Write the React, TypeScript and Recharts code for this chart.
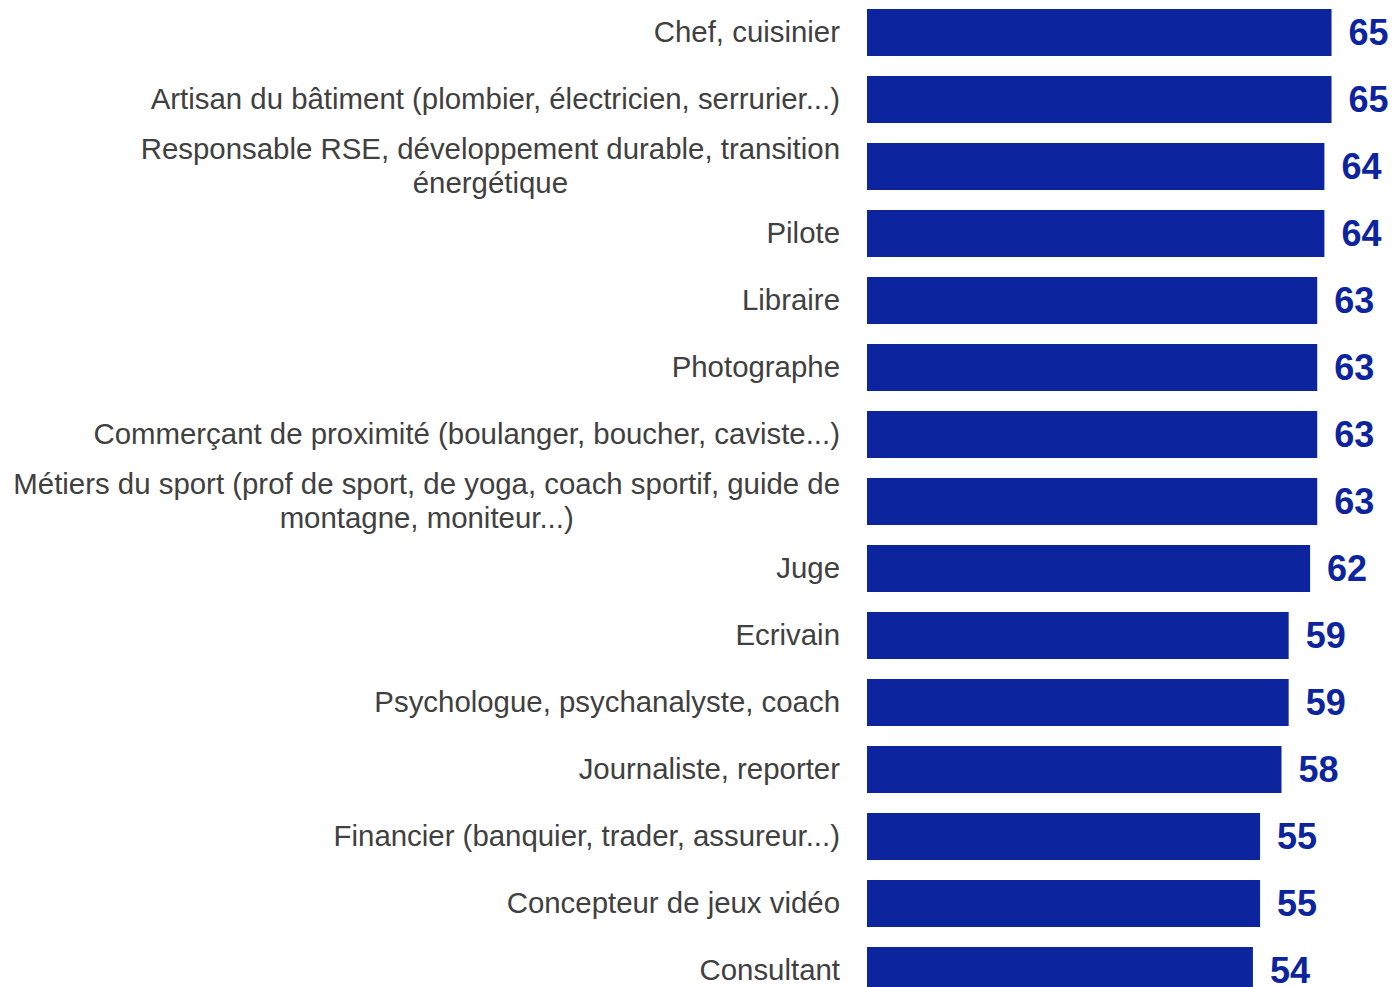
import { BarChart, Bar, XAxis, YAxis, LabelList } from "recharts";

const categories = [
  "Chef, cuisinier",
  "Artisan du bâtiment (plombier, électricien, serrurier...)",
  "Responsable RSE, développement durable, transition\nénergétique",
  "Pilote",
  "Libraire",
  "Photographe",
  "Commerçant de proximité (boulanger, boucher, caviste...)",
  "Métiers du sport (prof de sport, de yoga, coach sportif, guide de\nmontagne, moniteur...)",
  "Juge",
  "Ecrivain",
  "Psychologue, psychanalyste, coach",
  "Journaliste, reporter",
  "Financier (banquier, trader, assureur...)",
  "Concepteur de jeux vidéo",
  "Consultant",
];

const values = [65, 65, 64, 64, 63, 63, 63, 63, 62, 59, 59, 58, 55, 55, 54];

const data = categories.map((name, i) => ({ name, value: values[i] }));

const FONT = "'Liberation Sans', Arial, sans-serif";
const LABEL_SIZE = 29.4;
const BAR_COLOR = "#0C259E";

let ctx: CanvasRenderingContext2D | null = null;
function measure(text: string) {
  if (!ctx) ctx = document.createElement("canvas").getContext("2d");
  if (!ctx) return text.length * 14;
  ctx.font = `${LABEL_SIZE}px ${FONT}`;
  return ctx.measureText(text).width;
}

function CategoryTick(props: any) {
  const { x, payload } = props;
  const y = props.y - 1;
  const lines: string[] = String(payload.value).split("\n");
  if (lines.length === 1) {
    return (
      <text x={x} y={y} textAnchor="end" dominantBaseline="central"
        fontFamily={FONT} fontSize={LABEL_SIZE} fill="#404040">
        {lines[0]}
      </text>
    );
  }
  // wrapped labels: lines centred on each other, block right-aligned
  const w = Math.max(...lines.map(measure));
  const cx = x - w / 2;
  const lh = 34;
  const startY = y - ((lines.length - 1) * lh) / 2;
  return (
    <text textAnchor="middle" fontFamily={FONT} fontSize={LABEL_SIZE} fill="#404040">
      {lines.map((l, i) => (
        <tspan key={i} x={cx} y={startY + i * lh} dominantBaseline="central">
          {l}
        </tspan>
      ))}
    </text>
  );
}

export default function App() {
  return (
    <div style={{ position: "absolute", left: 0, top: -1, background: "#fff" }}>
      <BarChart
        width={1393}
        height={1005}
        data={data}
        layout="vertical"
        margin={{ top: 0, right: 0, bottom: 0, left: 0 }}
        barCategoryGap={20}
      >
        <XAxis type="number" domain={[0, 73.6]} hide />
        <YAxis
          type="category"
          dataKey="name"
          width={867}
          axisLine={false}
          tickLine={false}
          tickSize={0}
          tickMargin={27}
          interval={0}
          tick={<CategoryTick />}
        />
        <Bar dataKey="value" fill={BAR_COLOR} barSize={47} isAnimationActive={false}>
          <LabelList
            dataKey="value"
            position="right"
            offset={17}
            fill={BAR_COLOR}
            fontFamily={FONT}
            fontSize={36}
            fontWeight="bold"
          />
        </Bar>
      </BarChart>
    </div>
  );
}
